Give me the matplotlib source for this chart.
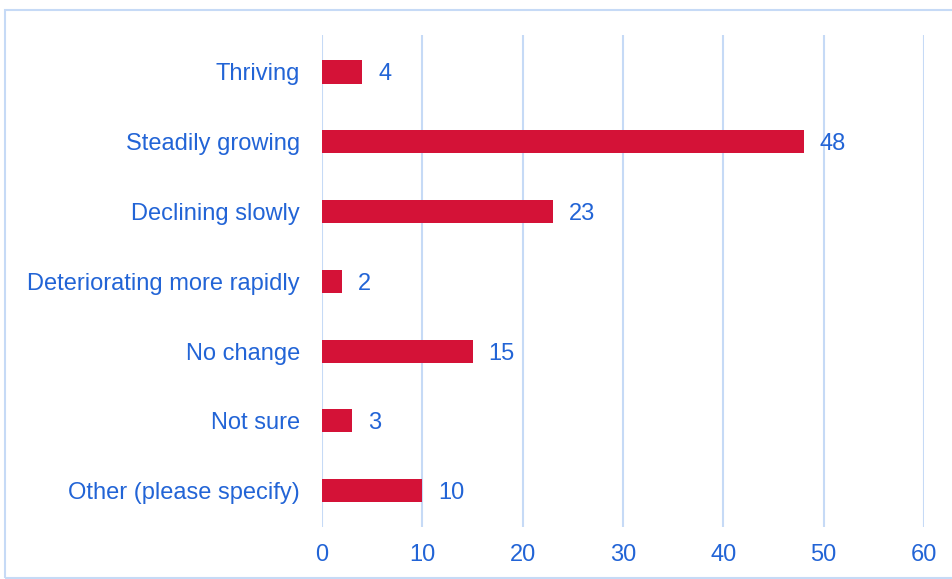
import matplotlib
matplotlib.use("Agg")
import matplotlib.pyplot as plt
from matplotlib.patches import Rectangle

categories = ["Thriving", "Steadily growing", "Declining slowly",
              "Deteriorating more rapidly", "No change", "Not sure",
              "Other (please specify)"]
values = [4, 48, 23, 2, 15, 3, 10]
xticks = [0, 10, 20, 30, 40, 50, 60]

BAR = "#D41237"
TXT = "#2264D6"
GRID = "#C6DAF6"
FS = 17

plt.rcParams['font.family'] = ['Liberation Sans', 'DejaVu Sans']

W, H = 953, 579
fig = plt.figure(figsize=(W/100, H/100), dpi=100)
fig.patch.set_facecolor("white")

# figure border
fig.patches.append(Rectangle((5/W, 1 - 578/H), (W + 10)/W, (578 - 9.5)/H,
                             transform=fig.transFigure, fill=False,
                             edgecolor=GRID, linewidth=1.5, zorder=0))

left, right = 322/W, 924/W
top, bottom = 1 - 35/H, 1 - 527/H
ax = fig.add_axes([left, bottom, right - left, top - bottom])

ypos = list(range(len(categories)))
ax.barh(ypos, values, height=0.33, color=BAR, zorder=3)
for y, v in zip(ypos, values):
    ax.text(v + 1.6, y, str(v), va="center_baseline", ha="left",
            color=TXT, fontsize=FS)

ax.set_xlim(0, 60)
ax.set_ylim(6.52, -0.53)
ax.set_yticks(ypos)
ax.set_yticklabels(categories, color=TXT, fontsize=FS, va="center_baseline")
ax.set_xticks(xticks)
ax.set_xticklabels([str(t) for t in xticks], color=TXT, fontsize=FS)
ax.tick_params(axis="both", length=0)
ax.tick_params(axis="y", pad=16)
ax.tick_params(axis="x", pad=12)
ax.grid(axis="x", color=GRID, linewidth=1.5, zorder=0)
ax.set_axisbelow(True)
for s in ax.spines.values():
    s.set_visible(False)

fig.savefig("out.png", dpi=100)
